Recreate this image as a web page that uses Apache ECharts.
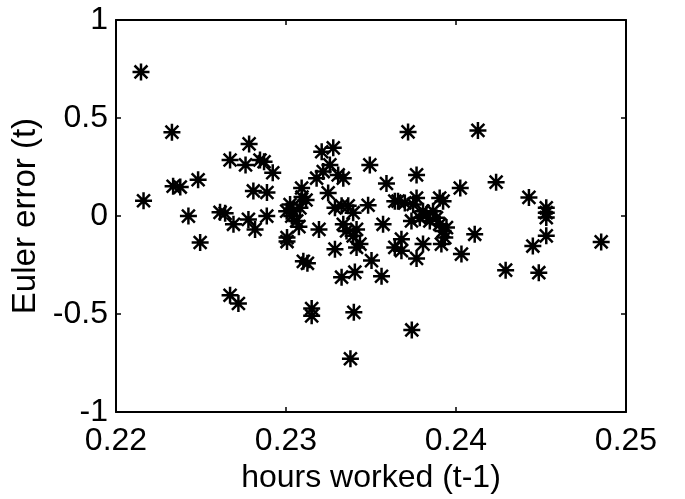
<!DOCTYPE html>
<html>
<head>
<meta charset="utf-8">
<script src="https://cdn.jsdelivr.net/npm/echarts@6/dist/echarts.min.js"></script>
<style>
html,body{margin:0;padding:0;background:#fff;}
#chart{width:685px;height:499px;}
</style>
</head>
<body>
<div id="chart"></div>
<script>
// Data
var hoursWorked = [0.22147,0.22329,0.22162,0.22336,0.22378,0.22483,0.22426,0.22495,0.22612,0.22642,
0.22691,0.22671,0.22762,0.22783,0.22779,0.22818,0.22847,0.22871,0.22808,0.22888,
0.22922,0.22887,0.22671,0.2272,0.23004,0.23043,0.23082,0.23034,0.23063,0.23076,
0.23006,0.23006,0.23102,0.23126,0.23092,0.23094,0.23118,0.23024,0.23194,0.2321,
0.23278,0.23258,0.2318,0.23219,0.23307,0.23337,0.23248,0.23288,0.23327,0.23366,
0.23395,0.23288,0.23337,0.23356,0.23327,0.23405,0.23415,0.23395,0.23435,0.23415,
0.23151,0.23151,0.23399,0.23379,0.23493,0.23591,0.2364,0.23483,0.23571,0.2364,
0.23503,0.23562,0.23718,0.24129,0.23768,0.24025,0.23659,0.23699,0.23768,0.23748,
0.23904,0.23924,0.23738,0.23787,0.23826,0.23846,0.23885,0.23904,0.23924,0.23944,
0.23806,0.23865,0.23679,0.23679,0.23806,0.23768,0.23914,0.23934,0.24032,0.2411,
0.2374,0.24236,0.24429,0.24531,0.24531,0.24531,0.24531,0.24452,0.24854,0.24292,0.24487];

var eulerError = [0.735,0.428,0.078,0.152,0.148,0.185,0,-0.135,0.019,0.014,
-0.042,0.286,0.261,0.368,-0.017,-0.068,0.286,0.277,0.128,0.12,
0.221,0,-0.404,-0.446,0.025,0.025,0.042,0,-0.025,-0.054,
-0.11,-0.13,-0.231,-0.241,0.143,0.097,0.082,0.059,-0.068,0.328,
0.348,0.261,0.193,0.227,0.21,0.193,0.118,0.042,0.052,0.052,
0.017,-0.169,-0.042,-0.076,-0.312,-0.286,-0.068,-0.101,-0.143,-0.16,
-0.472,-0.509,-0.491,-0.728,0.261,0.166,0.076,0.055,-0.042,-0.16,
-0.227,-0.307,0.429,0.437,0.21,0.143,0.076,0.067,0.092,0.059,
0.092,0.076,-0.025,-0.009,0.008,-0.025,-0.009,-0.042,-0.076,-0.059,
0.025,0.025,-0.118,-0.177,-0.143,-0.216,-0.143,-0.11,-0.194,-0.093,
-0.581,0.173,0.095,0.042,0.017,-0.008,-0.101,-0.153,-0.132,-0.276,-0.289];

var xTickLabels = ['0.22','0.23','0.24','0.25'];
var yTickLabels = ['-1','-0.5','0','0.5','1'];
var xTitle = 'hours worked (t-1)';
var yTitle = 'Euler error (t)';

var points = hoursWorked.map(function(h, i){ return [h, eulerError[i]]; });

var FONT = '"Liberation Sans", Arial, Helvetica, sans-serif';
var starPath = 'path://M0,-10L0,10M-10,0L10,0M-7.6,-7.6L7.6,7.6M-7.6,7.6L7.6,-7.6';

var chart = echarts.init(document.getElementById('chart'), null, {renderer:'canvas'});
var axisLineStyle = {color:'#000', width:2};
function xLabel(v){ var i = Math.round((v-0.22)/0.01); return xTickLabels[i] !== undefined ? xTickLabels[i] : ''; }
function yLabel(v){ var i = Math.round((v+1)/0.5); return yTickLabels[i] !== undefined ? yTickLabels[i] : ''; }

chart.setOption({
  backgroundColor:'#fff',
  animation:false,
  grid:{left:116, right:59, top:20, bottom:83, containLabel:false},
  xAxis:[{
    type:'value', min:0.22, max:0.25, interval:0.01, position:'bottom',
    name:xTitle, nameLocation:'middle', nameGap:46,
    nameTextStyle:{color:'#000', fontSize:32, fontFamily:FONT},
    axisLine:{show:true, onZero:false, lineStyle:axisLineStyle},
    axisTick:{show:true, inside:true, length:5, lineStyle:{color:'#000', width:1.5}},
    axisLabel:{color:'#000', fontSize:32, fontFamily:FONT, margin:13, formatter:xLabel},
    splitLine:{show:false}
  },{
    type:'value', min:0.22, max:0.25, interval:0.01, position:'top',
    axisLine:{show:true, onZero:false, lineStyle:axisLineStyle},
    axisTick:{show:true, inside:true, length:5, lineStyle:{color:'#000', width:1.5}},
    axisLabel:{show:false}, splitLine:{show:false}
  }],
  yAxis:[{
    type:'value', min:-1, max:1, interval:0.5, position:'left',
    name:yTitle, nameLocation:'middle', nameGap:72,
    nameTextStyle:{color:'#000', fontSize:33, fontFamily:FONT},
    axisLine:{show:true, onZero:false, lineStyle:axisLineStyle},
    axisTick:{show:true, inside:true, length:5, lineStyle:{color:'#000', width:1.5}},
    axisLabel:{color:'#000', fontSize:32, fontFamily:FONT, margin:8, formatter:yLabel},
    splitLine:{show:false}
  },{
    type:'value', min:-1, max:1, interval:0.5, position:'right',
    axisLine:{show:true, onZero:false, lineStyle:axisLineStyle},
    axisTick:{show:true, inside:true, length:5, lineStyle:{color:'#000', width:1.5}},
    axisLabel:{show:false}, splitLine:{show:false}
  }],
  series:[{
    type:'scatter',
    xAxisIndex:0, yAxisIndex:0,
    data:points,
    symbol:starPath,
    symbolSize:17,
    itemStyle:{color:'rgba(0,0,0,0)', borderColor:'#000', borderWidth:2.5, opacity:1},
    emphasis:{disabled:true}
  }]
});
</script>
</body>
</html>
